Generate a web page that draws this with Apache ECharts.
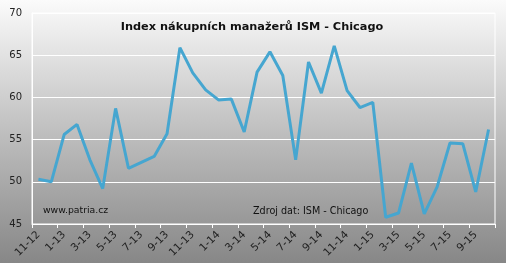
<!DOCTYPE html>
<html><head><meta charset="utf-8">
<script src="https://cdn.jsdelivr.net/npm/echarts@6/dist/echarts.min.js"></script>
<style>html,body{margin:0;padding:0;}#c{width:506px;height:263px;}</style>
</head><body><div id="c"></div>
<script>
const categories = ['11-12','12-12','1-13','2-13','3-13','4-13','5-13','6-13','7-13','8-13','9-13','10-13','11-13','12-13',
  '1-14','2-14','3-14','4-14','5-14','6-14','7-14','8-14','9-14','10-14','11-14','12-14',
  '1-15','2-15','3-15','4-15','5-15','6-15','7-15','8-15','9-15','10-15'];
const values = [50.3,50.0,55.6,56.8,52.6,49.2,58.7,51.6,52.3,53.0,55.7,65.9,62.9,60.9,
  59.7,59.8,55.9,63.0,65.4,62.6,52.6,64.2,60.5,66.1,60.8,58.8,
  59.4,45.8,46.3,52.2,46.2,49.4,54.6,54.5,48.8,56.2];
const yTicks = {min:45, max:70, interval:5};
const titleText = 'Index nákupních manažerů ISM - Chicago';
const sourceLeft = 'www.patria.cz';
const sourceRight = 'Zdroj dat: ISM - Chicago';

const chart = echarts.init(document.getElementById('c'));
chart.setOption({
  animation:false,
  backgroundColor:{type:'linear',x:0,y:0,x2:0,y2:1,colorStops:[{offset:0,color:'#fbfbfb'},{offset:0.5,color:'#bfbfbf'},{offset:1,color:'#878787'}]},
  title:{text:titleText,left:247,top:17,textAlign:'center',textStyle:{fontFamily:'DejaVu Sans',fontSize:11.3,fontWeight:'bold',color:'#111'}},
  graphic:[
    {type:'text',left:43,top:206,style:{text:sourceLeft,font:'9.3px "DejaVu Sans"',fill:'#111'}},
    {type:'text',left:253,top:206,style:{text:sourceRight,font:'9.6px "DejaVu Sans"',fill:'#111'}}
  ],
  grid:{left:32,right:11,top:13,bottom:39,show:true,borderColor:'#fff',borderWidth:1,backgroundColor:'transparent'},
  xAxis:{type:'category',data:categories,boundaryGap:true,
    axisLine:{lineStyle:{color:'#fff',width:1}},
    axisTick:{show:true,interval:1,length:4,lineStyle:{color:'#fff'}},
    axisLabel:{interval:1,rotate:45,margin:9,fontFamily:'DejaVu Sans',fontSize:10.5,color:'#222'}},
  yAxis:{type:'value',min:yTicks.min,max:yTicks.max,interval:yTicks.interval,
    axisLine:{show:true,lineStyle:{color:'#fff'}},axisTick:{show:false},
    splitLine:{lineStyle:{color:'#fff',width:1}},
    axisLabel:{margin:10,fontFamily:'DejaVu Sans',fontSize:10,color:'#222'}},
  series:[{type:'line',data:values,symbol:'none',lineStyle:{color:'#46a6d0',width:3}}]
});
</script></body></html>
